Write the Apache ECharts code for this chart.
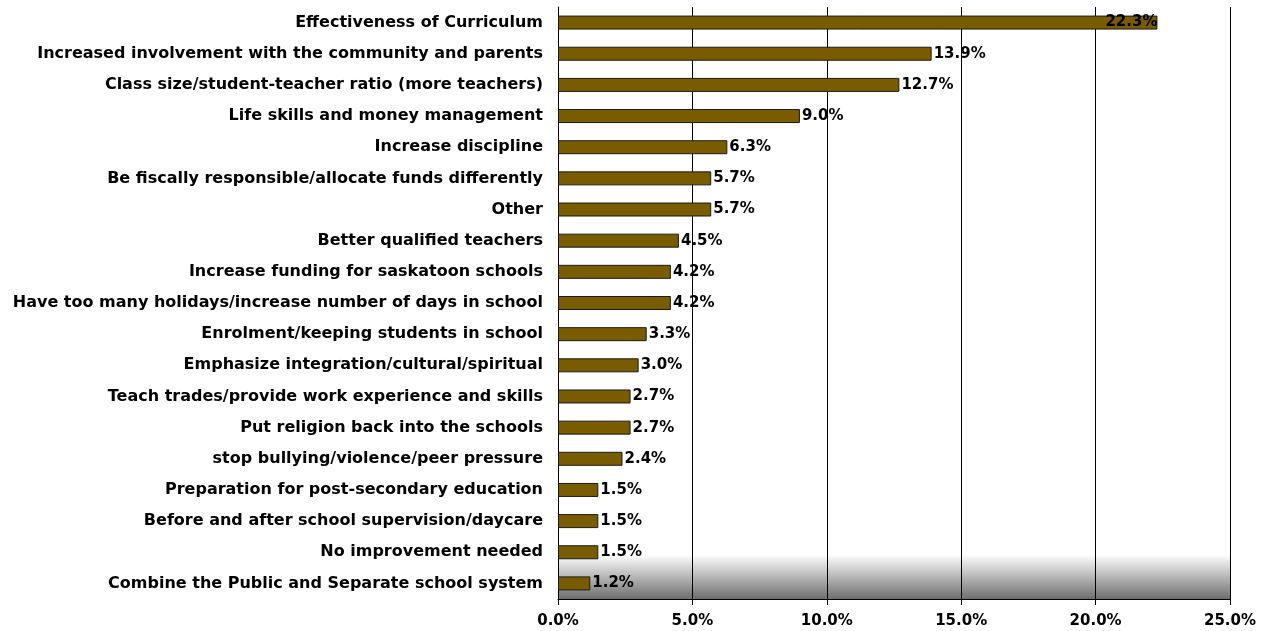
<!DOCTYPE html>
<html><head><meta charset="utf-8">
<script src="https://cdn.jsdelivr.net/npm/echarts@6/dist/echarts.min.js"></script>
<style>html,body{margin:0;padding:0;background:#fff}#c{width:1274px;height:631px}</style>
</head><body><div id="c"></div>
<script>
const categories = [
  "Effectiveness of Curriculum",
  "Increased involvement with the community and parents",
  "Class size/student-teacher ratio (more teachers)",
  "Life skills and money management",
  "Increase discipline",
  "Be fiscally responsible/allocate funds differently",
  "Other",
  "Better qualified teachers",
  "Increase funding for saskatoon schools",
  "Have too many holidays/increase number of days in school",
  "Enrolment/keeping students in school",
  "Emphasize integration/cultural/spiritual",
  "Teach trades/provide work experience and skills",
  "Put religion back into the schools",
  "stop bullying/violence/peer pressure",
  "Preparation for post-secondary education",
  "Before and after school supervision/daycare",
  "No improvement needed",
  "Combine the Public and Separate school system"
];
const values = [22.3, 13.9, 12.7, 9.0, 6.3, 5.7, 5.7, 4.5, 4.2, 4.2, 3.3, 3.0, 2.7, 2.7, 2.4, 1.5, 1.5, 1.5, 1.2];
const xTicks = [0, 5, 10, 15, 20, 25];

const font = 'DejaVu Sans';
const chart = echarts.init(document.getElementById('c'));
const data = values.map((v, i) => i === 0
  ? { value: v, label: { position: 'insideRight', distance: 0 } }
  : v);
chart.setOption({
  animation: false,
  grid: {
    left: 558, right: 44, top: 7, bottom: 32,
    show: true, borderWidth: 0,
    backgroundColor: new echarts.graphic.LinearGradient(0, 0, 0, 1, [
      { offset: 0, color: '#ffffff' },
      { offset: 0.925, color: '#ffffff' },
      { offset: 1, color: '#6e6e6e' }
    ])
  },
  xAxis: {
    type: 'value', min: xTicks[0], max: xTicks[xTicks.length - 1], interval: 5,
    axisLine: { show: true, lineStyle: { color: '#000', width: 1 } },
    axisTick: { show: true, length: 6, lineStyle: { color: '#000' } },
    splitLine: { show: true, lineStyle: { color: '#000', width: 1 } },
    axisLabel: {
      formatter: v => v.toFixed(1) + '%',
      color: '#000', fontFamily: font, fontWeight: 'bold', fontSize: 15, margin: 15
    }
  },
  yAxis: {
    type: 'category', data: categories, inverse: true,
    axisLine: { show: true, lineStyle: { color: '#000', width: 1 } },
    axisTick: { show: false },
    axisLabel: { color: '#000', fontFamily: font, fontWeight: 'bold', fontSize: 16, margin: 15 }
  },
  series: [{
    type: 'bar', data: data, barWidth: 14,
    itemStyle: { color: '#7a5c00', borderColor: '#1a1a1a', borderWidth: 1 },
    label: {
      show: true, position: 'right', distance: 2,
      formatter: p => p.value.toFixed(1) + '%',
      color: '#000', fontFamily: font, fontWeight: 'bold', fontSize: 15
    }
  }]
});
</script></body></html>
